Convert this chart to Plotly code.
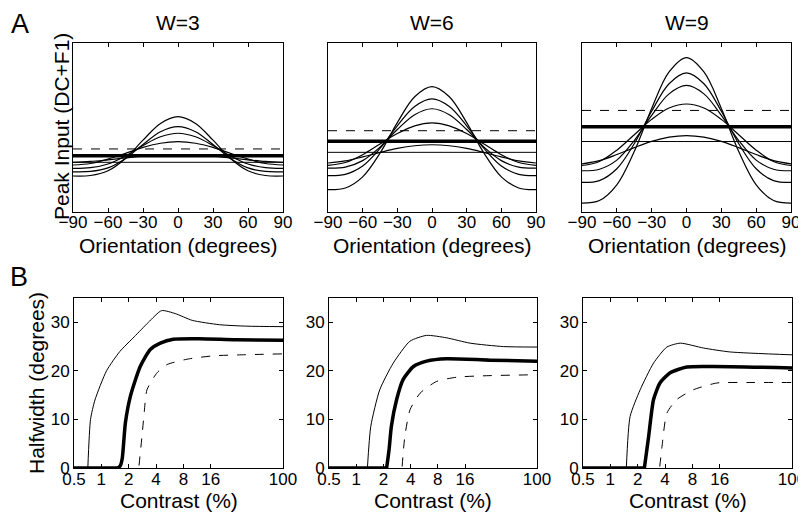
import plotly.graph_objects as go
from plotly.subplots import make_subplots

# page body adds an 8px margin, so the figure is a bit smaller and offset
OFF = 8
W, H = 806 - OFF, 518 - OFF
FONT = "Liberation Sans, Arial, sans-serif"

# --- panel A: peak input vs orientation -------------------------------------
orientation = [-90, -75, -60, -45, -30, -15, 0, 15, 30, 45, 60, 75, 90]

w3_curves = [
    [21.3, 21.6, 24.4, 31.7, 42.5, 52.4, 56.4, 52.4, 42.5, 31.7, 24.4, 21.6, 21.3],
    [23.8, 24.0, 26.1, 31.7, 39.9, 47.5, 50.5, 47.5, 39.9, 31.7, 26.1, 24.0, 23.8],
    [25.8, 26.2, 28.4, 33.2, 39.3, 44.5, 46.6, 44.5, 39.3, 33.2, 28.4, 26.2, 25.8],
    [27.8, 28.7, 31.3, 34.7, 38.2, 40.7, 41.6, 40.7, 38.2, 34.7, 31.3, 28.7, 27.8],
    [29.4, 29.9, 30.9, 32.0, 33.0, 33.7, 33.9, 33.7, 33.0, 32.0, 30.9, 29.9, 29.4],
]
w6_curves = [
    [13.2, 14.2, 20.8, 34.8, 52.9, 68.2, 74.2, 68.2, 52.9, 34.8, 20.8, 14.2, 13.2],
    [21.5, 22.3, 27.2, 37.6, 51.0, 62.4, 66.9, 62.4, 51.0, 37.6, 27.2, 22.3, 21.5],
    [26.0, 26.6, 30.4, 38.4, 48.8, 57.6, 61.1, 57.6, 48.8, 38.4, 30.4, 26.6, 26.0],
    [27.6, 29.3, 33.9, 40.2, 46.4, 51.0, 52.7, 51.0, 46.4, 40.2, 33.9, 29.3, 27.6],
    [29.0, 30.2, 32.6, 35.2, 37.6, 39.2, 39.8, 39.2, 37.6, 35.2, 32.6, 30.2, 29.0],
]
w9_curves = [
    [5.3, 6.8, 16.1, 35.8, 61.3, 82.9, 91.4, 82.9, 61.3, 35.8, 16.1, 6.8, 5.3],
    [17.5, 18.6, 25.6, 40.4, 59.6, 75.9, 82.3, 75.9, 59.6, 40.4, 25.6, 18.6, 17.5],
    [24.4, 25.3, 30.7, 42.3, 57.2, 69.9, 74.9, 69.9, 57.2, 42.3, 30.7, 25.3, 24.4],
    [27.5, 29.9, 36.6, 45.7, 54.8, 61.5, 63.9, 61.5, 54.8, 45.7, 36.6, 29.9, 27.5],
    [28.5, 30.4, 34.0, 38.1, 41.8, 44.3, 45.2, 44.3, 41.8, 38.1, 34.0, 30.4, 28.5],
]
# flat levels: (dashed, thick, thin)
w3_levels = [37.3, 33.3, 29.4]
w6_levels = [48.1, 41.8, 35.3]
w9_levels = [60.1, 50.5, 41.7]

# --- panel B: halfwidth vs contrast ------------------------------------------
w3_thin_x = [0.5, 0.71, 0.76, 0.85, 1.14, 1.6, 2.3, 3.3, 4.6, 6.5, 10, 20, 40, 100]
w3_thin_y = [0, 0, 10, 14, 20, 24, 27, 30, 32.4, 31.8, 30.4, 29.5, 29.2, 29.1]
w3_thick_x = [0.5, 1.52, 1.62, 1.7, 1.84, 2.09, 2.68, 3.46, 4.46, 6.2, 12, 30, 100]
w3_thick_y = [0, 0, 0.5, 2, 9.3, 14.8, 20.9, 24.4, 25.7, 26.5, 26.6, 26.4, 26.3]
w3_dash_x = [2.6, 2.8, 2.95, 3.18, 4.1, 5.3, 8.8, 17.3, 35, 100]
w3_dash_y = [0.5, 6.5, 11, 16.1, 19.6, 21.3, 22.4, 23.1, 23.3, 23.5]

w6_thin_x = [0.5, 1.33, 1.45, 1.82, 2.57, 3.93, 6.0, 10, 18.2, 42.5, 100]
w6_thin_y = [0, 0, 8.6, 16.1, 21.6, 26.1, 27.3, 26.8, 25.7, 25.0, 24.9]
w6_thick_x = [0.5, 2.17, 2.31, 2.45, 2.8, 3.3, 4.3, 6.0, 10, 30, 100]
w6_thick_y = [0, 0, 3.8, 8.6, 14.1, 18.2, 20.9, 22.0, 22.5, 22.2, 22.0]
w6_dash_x = [3.22, 3.45, 3.94, 5.09, 7.7, 13, 27.8, 100]
w6_dash_y = [0.3, 6.5, 12.0, 15.4, 17.8, 18.7, 19.0, 19.2]

w9_thin_x = [0.5, 1.5, 1.65, 2.13, 2.99, 4.19, 5.89, 10.6, 20.6, 100]
w9_thin_y = [0, 0, 10.6, 16.1, 21.6, 24.9, 25.7, 24.7, 23.9, 23.3]
w9_thick_x = [0.5, 2.37, 2.64, 2.99, 3.52, 4.55, 6.95, 13.6, 100]
w9_thick_y = [0, 0, 6.5, 14.1, 17.5, 19.6, 20.8, 20.9, 20.6]
w9_dash_x = [3.5, 3.71, 4.19, 5.4, 8.2, 14.9, 31.7, 100]
w9_dash_y = [0.3, 4.5, 11.3, 14.1, 16.1, 17.5, 17.6, 17.6]

contrast_ticks = [0.5, 1, 2, 4, 8, 16, 100]
contrast_labels = ["0.5", "1", "2", "4", "8", "16", "100"]
orient_ticks = [-90, -60, -30, 0, 30, 60, 90]
orient_labels = ["\u221290", "\u221260", "\u221230", "0", "30", "60", "90"]
titles = ["W=3", "W=6", "W=9"]


def fx(x):
    return (x - OFF) / W


def fy(y):
    return 1 - (y - OFF) / H


fig = make_subplots(rows=2, cols=3)

top_curves = [w3_curves, w6_curves, w9_curves]
top_levels = [w3_levels, w6_levels, w9_levels]
for c in range(3):
    for ys in top_curves[c]:
        fig.add_trace(go.Scatter(x=orientation, y=ys, mode="lines", line_shape="spline",
                                 line=dict(color="black", width=1.2)), row=1, col=c + 1)
    dash_v, thick_v, thin_v = top_levels[c]
    fig.add_trace(go.Scatter(x=[-90, 90], y=[dash_v, dash_v], mode="lines",
                             line=dict(color="black", width=1, dash="dash")), row=1, col=c + 1)
    fig.add_trace(go.Scatter(x=[-90, 90], y=[thick_v, thick_v], mode="lines",
                             line=dict(color="black", width=3.5)), row=1, col=c + 1)
    fig.add_trace(go.Scatter(x=[-90, 90], y=[thin_v, thin_v], mode="lines",
                             line=dict(color="black", width=1)), row=1, col=c + 1)

bottom = [
    (w3_thin_x, w3_thin_y, w3_thick_x, w3_thick_y, w3_dash_x, w3_dash_y),
    (w6_thin_x, w6_thin_y, w6_thick_x, w6_thick_y, w6_dash_x, w6_dash_y),
    (w9_thin_x, w9_thin_y, w9_thick_x, w9_thick_y, w9_dash_x, w9_dash_y),
]


def halfwidth_curve(xs, ys, width, dash, col, split):
    # flat zero part drawn straight, the rise smoothed
    if split:
        fig.add_trace(go.Scatter(x=xs[:2], y=ys[:2], mode="lines",
                                 line=dict(color="black", width=width)), row=2, col=col)
        xs, ys = xs[1:], ys[1:]
    fig.add_trace(go.Scatter(x=xs, y=ys, mode="lines", line_shape="spline",
                             line=dict(color="black", width=width, dash=dash, smoothing=0.6)),
                  row=2, col=col)


for c, (tx, ty, kx, ky, dx, dy) in enumerate(bottom):
    halfwidth_curve(tx, ty, 1, "solid", c + 1, True)
    halfwidth_curve(kx, ky, 3.5, "solid", c + 1, True)
    halfwidth_curve(dx, dy, 1, "dash", c + 1, False)

axis_style = dict(showline=True, linecolor="black", linewidth=1, mirror="ticks",
                  ticks="inside", ticklen=4, tickcolor="black", showgrid=False,
                  zeroline=False, automargin=False, ticklabeloverflow="allow",
                  tickfont=dict(family=FONT, size=17, color="black"))

top_x = [(73, 283), (328, 536), (582, 791)]
bot_x = [(74, 283), (329, 537), (583, 792)]
for c in range(3):
    x0, x1 = top_x[c]
    fig.update_xaxes(axis_style, domain=[fx(x0), fx(x1)], range=[-90, 90],
                     tickvals=orient_ticks, ticktext=orient_labels, ticklabelstandoff=-5,
                     row=1, col=c + 1)
    fig.update_yaxes(axis_style, domain=[fy(212), fy(43)], range=[0, 100],
                     showticklabels=False, ticks="", row=1, col=c + 1)
    x0, x1 = bot_x[c]
    fig.update_xaxes(axis_style, domain=[fx(x0), fx(x1)], type="log",
                     range=[-0.30103, 2], tickvals=contrast_ticks, ticktext=contrast_labels,
                     ticklabelstandoff=-4, row=2, col=c + 1)
    fig.update_yaxes(axis_style, domain=[fy(468), fy(298)], range=[0, 35],
                     tickvals=[0, 10, 20, 30], row=2, col=c + 1)

ann = []


def text(x, y, s, size=21, angle=0):
    ann.append(dict(x=fx(x), y=fy(y), xref="paper", yref="paper", text=s, showarrow=False,
                    textangle=angle, xanchor="center", yanchor="middle",
                    font=dict(family=FONT, size=size, color="black")))


text(20, 24, "A", size=27)
text(19, 277, "B", size=27)
for c, t in enumerate(titles):
    text((top_x[c][0] + top_x[c][1]) / 2, 22, t)
    text((top_x[c][0] + top_x[c][1]) / 2, 245, "Orientation (degrees)")
    text((bot_x[c][0] + bot_x[c][1]) / 2, 500, "Contrast (%)")
text(61, 127, "Peak Input (DC+F1)", angle=-90)
text(36, 383, "Halfwidth (degrees)", angle=-90)

fig.update_layout(template="none", width=W, height=H, margin=dict(l=0, r=0, t=0, b=0),
                  plot_bgcolor="white", paper_bgcolor="white", showlegend=False,
                  annotations=ann, font=dict(family=FONT, color="black"))

fig.write_html("out.html")
